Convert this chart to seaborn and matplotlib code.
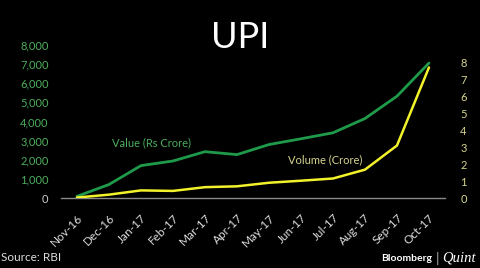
import pandas as pd
import matplotlib
matplotlib.use("Agg")
import matplotlib.pyplot as plt
import seaborn as sns

# Datos UPI (RBI)
meses = ["Nov-16", "Dec-16", "Jan-17", "Feb-17", "Mar-17", "Apr-17",
         "May-17", "Jun-17", "Jul-17", "Aug-17", "Sep-17", "Oct-17"]
valor = [90, 707, 1696, 1937, 2425, 2271, 2797, 3098, 3411, 4157, 5325, 7057]
volumen = [0.03, 0.2, 0.45, 0.42, 0.64, 0.69, 0.9, 1.02, 1.15, 1.67, 3.09, 7.68]
ticks_izq = [0, 1000, 2000, 3000, 4000, 5000, 6000, 7000, 8000]
ticks_der = [0, 1, 2, 3, 4, 5, 6, 7, 8]

df = pd.DataFrame({"Mes": meses, "Valor": valor, "Volumen": volumen})
df["pos"] = range(len(df))

verde = "#1f9a4b"
verde_txt = "#4cae5c"
amarillo = "#f2f22a"
amarillo_txt = "#d6d48c"

sns.set_style("dark")
plt.rcParams['font.family'] = ['Lato', 'DejaVu Sans']

fig = plt.figure(figsize=(4.8, 2.68), dpi=100, facecolor="black")
ax = fig.add_axes([0.127, 0.261, 0.8, 0.571])
ax.set_facecolor("black")

sns.lineplot(data=df, x="pos", y="Valor", ax=ax, color=verde, linewidth=2)
ax.set_ylim(0, 8000)
ax.set_xlim(-0.5, len(meses) - 0.5)
ax.set_yticks(ticks_izq)
ax.set_yticklabels([f"{t:,}" for t in ticks_izq])
ax.tick_params(axis="y", colors=verde_txt, labelsize=8, length=0, pad=9)
ax.get_yticklabels()[0].set_color("#cccccc")

ax2 = ax.twinx()
sns.lineplot(data=df, x="pos", y="Volumen", ax=ax2, color=amarillo, linewidth=1.8)
ax2.set_ylim(0, 9)
ax2.set_yticks(ticks_der)
ax2.tick_params(axis="y", colors=amarillo_txt, labelsize=8, length=0, pad=11)
ax2.set_ylabel("")
ax.set_ylabel("")
ax.set_xlabel("")

ax.set_xticks([i - 0.5 for i in range(len(meses) + 1)], minor=False)
ax.set_xticklabels([""] * (len(meses) + 1))
ax.set_xticks(range(len(meses)), minor=True)
ax.set_xticklabels(meses, minor=True, rotation=45, ha="right", rotation_mode="anchor",
                   color="#dddddd", fontsize=8.5)
ax.tick_params(axis="x", which="major", colors="#888888", length=4, direction="out")
ax.tick_params(axis="x", which="minor", length=0, pad=10)

for a in (ax, ax2):
    a.grid(False)
    for s in a.spines.values():
        s.set_visible(False)
ax.spines["bottom"].set_visible(True)
ax.spines["bottom"].set_color("#888888")
ax.spines["bottom"].set_linewidth(1)

ax.text(1.1, 2700, "Value (Rs Crore)", color=verde_txt, fontsize=8)
ax2.text(6.6, 2.05, "Volume (Crore)", color=amarillo_txt, fontsize=8)

fig.text(0.5, 0.82, "UPI", color="white", fontsize=26, ha="center")
fig.text(0.002, 0.025, "Source: RBI", color="#dddddd", fontsize=8.5)
fig.text(0.9, 0.025, "Bloomberg", color="white", fontsize=7.5, ha="right", weight="bold")
fig.text(0.911, 0.018, "|", color="#aaaaaa", fontsize=10, ha="center")
fig.text(0.922, 0.025, "Quint", color="white", fontsize=10.5, ha="left",
         family=["Liberation Serif"], style="italic")

fig.savefig("out.png", dpi=100, facecolor="black")
